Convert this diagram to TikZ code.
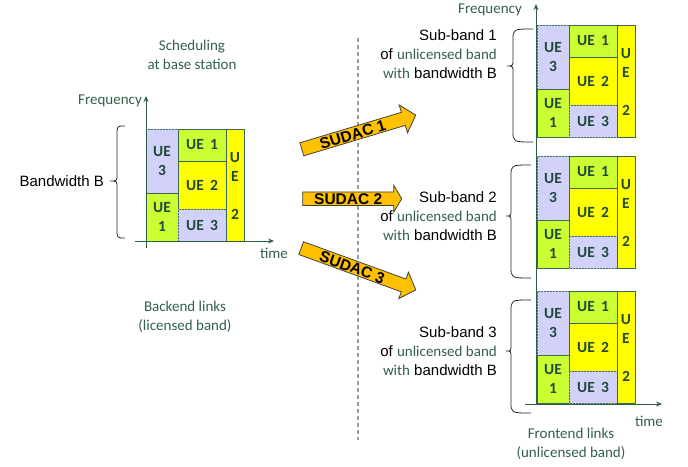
\documentclass[tikz,border=0pt]{standalone}
\usepackage{fontspec}
\setmainfont{Liberation Sans}
\newfontfamily\calfont{Carlito}
\usetikzlibrary{arrows.meta,patterns}

\definecolor{lav}{HTML}{D6D6FC}
\definecolor{lavhatch}{HTML}{CBCBF6}
\definecolor{lgreen}{HTML}{CCFF33}
\definecolor{yel}{HTML}{FFFF00}
\definecolor{cellline}{HTML}{3A6858}
\definecolor{uetext}{HTML}{1F4A3A}
\definecolor{notegreen}{HTML}{33604A}
\definecolor{axisgreen}{HTML}{2F5E48}
\definecolor{dashgray}{HTML}{8AA898}
\definecolor{sudacfill}{HTML}{FFC000}

\tikzset{
  cellbox/.style={draw=cellline, line width=1pt},
  hatchcell/.style={cellbox, fill=lav, postaction={pattern=north east lines, pattern color=lavhatch}},
  greencell/.style={cellbox, fill=lgreen},
  yelcell/.style={cellbox, fill=yel},
  uelabel/.style={text=uetext, font=\calfont\bfseries\fontsize{15.5}{19}\selectfont, align=center, inner sep=0pt},
  note/.style={text=notegreen, font=\calfont\fontsize{15}{19}\selectfont, align=center, inner sep=0pt},
  plain/.style={text=black, font=\fontsize{15}{19}\selectfont, inner sep=0pt},
  axis/.style={draw=axisgreen, line width=0.9pt, -{Stealth[length=6pt,width=5pt]}},
  bracestyle/.style={draw=black!85, line width=0.8pt},
  sudacbody/.style={draw=black!75, line width=0.8pt, fill=sudacfill},
  sudactext/.style={font=\bfseries\fontsize{15.5}{15.5}\selectfont, inner sep=0pt},
}

% one scheduling grid, top-left corner at (#2,#3)
\newcommand\uegrid[3]{%
  \begin{scope}[shift={(#2,#3)}]
    \draw[hatchcell] (0,0) rectangle (32,64);
    \draw[greencell] (0,64) rectangle (32,112);
    \draw[greencell] (32,0) rectangle (80,32);
    \draw[yelcell] (32,32) rectangle (80,80);
    \draw[hatchcell] (32,80) rectangle (80,112);
    \draw[yelcell] (80,0) rectangle (98,112);
    \node[uelabel] (#1-a) at (16,32) {UE\\3};
    \node[uelabel] (#1-b) at (16,88) {UE\\1};
    \node[uelabel] (#1-c) at (56,16) {UE\hspace{0.4em}1};
    \node[uelabel] (#1-d) at (56,56) {UE\hspace{0.4em}2};
    \node[uelabel] (#1-e) at (56,96) {UE\hspace{0.4em}3};
    \node[uelabel] (#1-f) at (89,57) {U\\E\\\mbox{}\\2};
  \end{scope}}

% curly brace opening to the right: base x, straight x, tip x, top y, tip y, bottom y, end radius
\newcommand\curlybr[7]{%
  \draw[bracestyle] (#1,#4) .. controls (#2,#4) .. (#2,#4+#7)
    -- (#2,#5-7) .. controls (#2,#5) .. (#3,#5)
    .. controls (#2,#5) .. (#2,#5+7)
    -- (#2,#6-#7) .. controls (#2,#6) .. (#1,#6);}

% block arrow: name, centre x, centre y, angle, length, head length, head half-width, label
\newcommand\sudacarrow[8]{%
  \begin{scope}[shift={(#2,#3)}, rotate=#4, transform shape]
    \draw[sudacbody] (-#5/2,-6.8) -- (#5/2-#6,-6.8) -- (#5/2-#6,-#7) -- (#5/2,0)
      -- (#5/2-#6,#7) -- (#5/2-#6,6.8) -- (-#5/2,6.8) -- cycle;
    \node[sudactext] (#1) at (-#6/2,0.6) {#8};
  \end{scope}}

\begin{document}
\begin{tikzpicture}[x=1pt,y=-1pt]
  \useasboundingbox (0,0) rectangle (688,466);

  % separator between backend and frontend links
  \draw[dashgray, line width=1.3pt, dash pattern=on 4pt off 3pt] (358,38) -- (358,440);

  % base station side
  \node[note] (sched) at (192,55) {Scheduling\\at base station};
  \node[note] (backend) at (185,317) {Backend links\\(licensed band)};
  \uegrid{bs}{146}{129}
  \coordinate (bsy0) at (146,248);
  \coordinate (bsy1) at (146,96);
  \coordinate (bsx0) at (135,241);
  \coordinate (bsx1) at (274,241);
  \draw[axis] (bsy0) -- (bsy1);
  \draw[axis] (bsx0) -- (bsx1);
  \node[note] (bsfreq) at (110,101) {Frequency};
  \node[note] (bstime) at (274,253) {time};
  \curlybr{125}{117}{110}{126}{181}{238}{9}
  \node[plain, anchor=east] (bw) at (104,181) {Bandwidth B};

  % SUDAC relays
  \sudacarrow{s1}{358.8}{132.2}{16.7}{119}{13}{14.5}{SUDAC 1}
  \sudacarrow{s2}{352.2}{198.7}{0}{99}{8}{13.5}{SUDAC 2}
  \sudacarrow{s3}{358.5}{269}{-20}{122}{13}{14}{SUDAC 3}

  % frontend side
  \uegrid{f1}{537}{25}
  \uegrid{f2}{537}{156}
  \uegrid{f3}{537}{291}
  \coordinate (fey0) at (536,404);
  \coordinate (fey1) at (536,4);
  \coordinate (fex0) at (525,404);
  \coordinate (fex1) at (662,404);
  \draw[axis] (fey0) -- (fey1);
  \draw[axis] (fex0) -- (fex1);
  \node[note] (fefreq) at (490,10) {Frequency};
  \node[note] (fetime) at (649,421) {time};
  \node[note] (frontend) at (571,444) {Frontend links\\(unlicensed band)};

  \curlybr{533}{513}{507}{29}{66}{142}{11}
  \curlybr{531}{511}{506}{165}{216}{278}{11}
  \curlybr{531}{511}{506}{300}{351}{413}{11}

  \node[plain, anchor=east, align=right] (sb1) at (497,54)
    {Sub-band 1\\of {\calfont\color{notegreen}unlicensed band}\\{\calfont\color{notegreen}with} bandwidth B};
  \node[plain, anchor=east, align=right] (sb2) at (497,216)
    {Sub-band 2\\of {\calfont\color{notegreen}unlicensed band}\\{\calfont\color{notegreen}with} bandwidth B};
  \node[plain, anchor=east, align=right] (sb3) at (497,351)
    {Sub-band 3\\of {\calfont\color{notegreen}unlicensed band}\\{\calfont\color{notegreen}with} bandwidth B};
\end{tikzpicture}
\end{document}
